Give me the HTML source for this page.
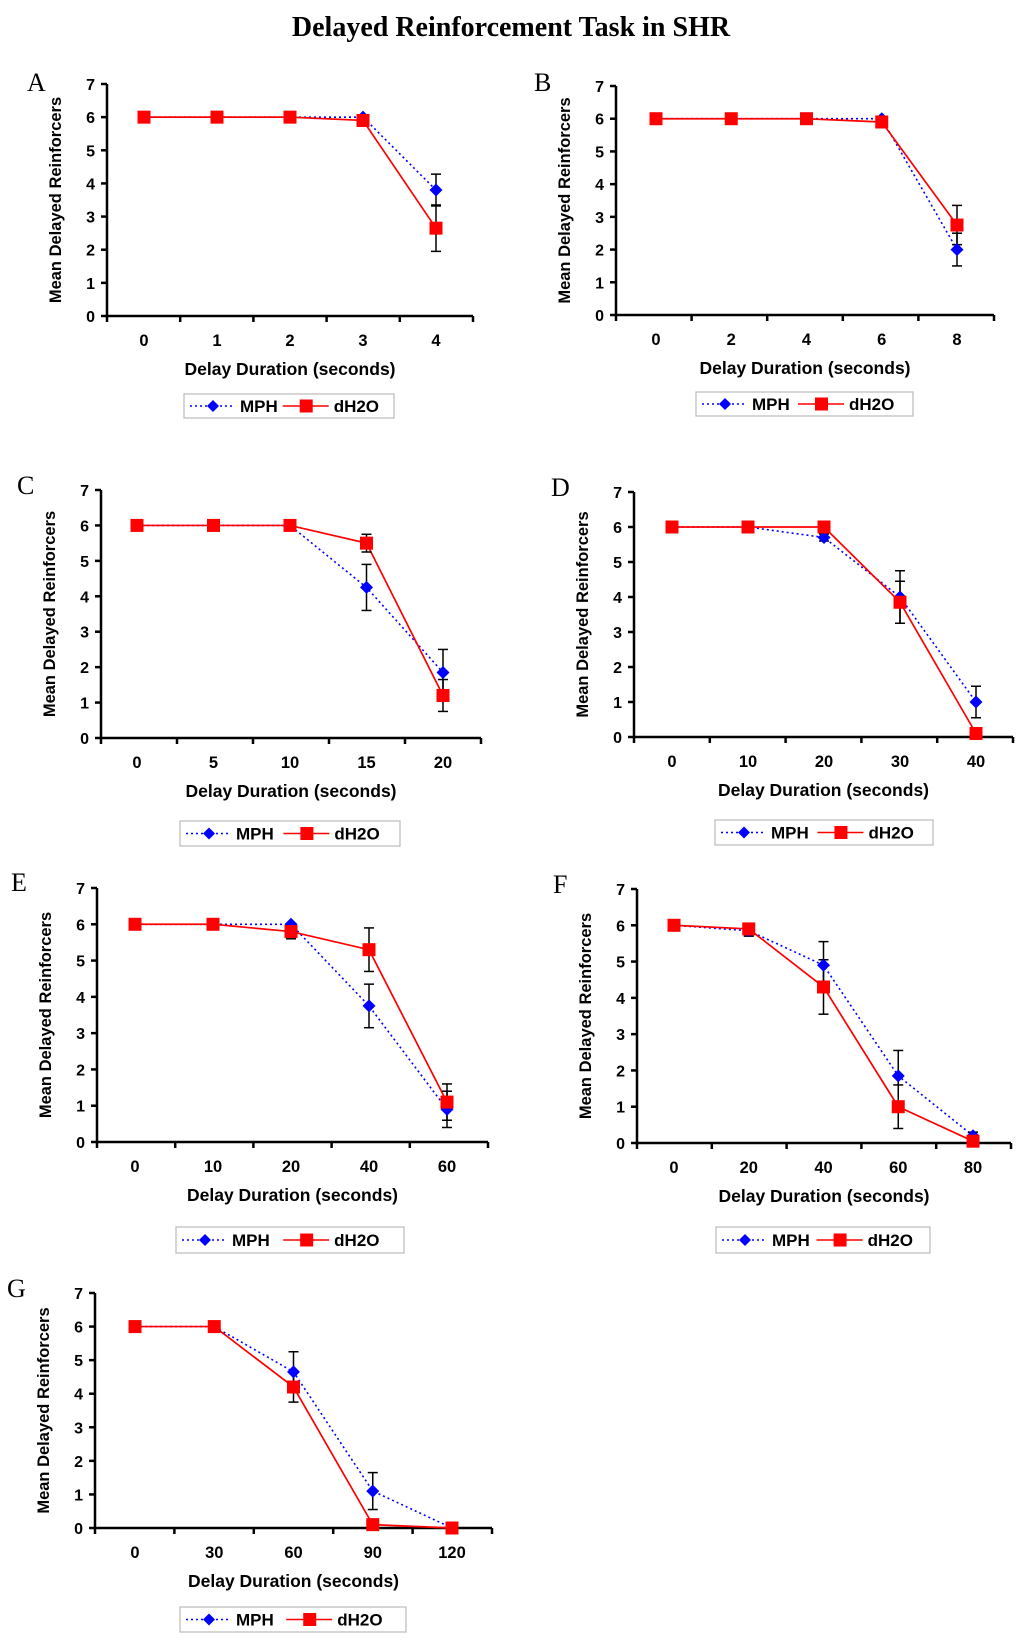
<!DOCTYPE html>
<html><head><meta charset="utf-8">
<style>
html,body{margin:0;padding:0;background:#fff;}
body{width:1024px;height:1646px;position:relative;overflow:hidden;}
svg{position:absolute;left:0;top:0;}
</style></head>
<body>
<svg id="fig" width="1024" height="1646" viewBox="0 0 1024 1646" xmlns="http://www.w3.org/2000/svg">
<text x="511" y="36" text-anchor="middle" font-family="Liberation Serif, serif" font-weight="bold" font-size="28">Delayed Reinforcement Task in SHR</text>
</svg>
<script>
const panelLabels = ["A","B","C","D","E","F","G"];
const catsA = ["0","1","2","3","4"];
const catsB = ["0","2","4","6","8"];
const catsC = ["0","5","10","15","20"];
const catsD = ["0","10","20","30","40"];
const catsE = ["0","10","20","40","60"];
const catsF = ["0","20","40","60","80"];
const catsG = ["0","30","60","90","120"];
const mphA = [6,6,6,6,3.8];      const mphErrA = [0,0,0,0,0.48];
const waterA = [6,6,6,5.9,2.65]; const waterErrA = [0,0,0,0,0.7];
const mphB = [6,6,6,6,2.0];      const mphErrB = [0,0,0,0,0.5];
const waterB = [6,6,6,5.9,2.75]; const waterErrB = [0,0,0,0,0.6];
const mphC = [6,6,6,4.25,1.85];  const mphErrC = [0,0,0,0.65,0.65];
const waterC = [6,6,6,5.5,1.2];  const waterErrC = [0,0,0,0.25,0.45];
const mphD = [6,6,5.7,4.0,1.0];  const mphErrD = [0,0,0.1,0.75,0.45];
const waterD = [6,6,6,3.85,0.1]; const waterErrD = [0,0,0,0.6,0];
const mphE = [6,6,6,3.75,0.9];   const mphErrE = [0,0,0,0.6,0.5];
const waterE = [6,6,5.8,5.3,1.1];const waterErrE = [0,0,0.2,0.6,0.5];
const mphF = [6,5.85,4.9,1.85,0.2]; const mphErrF = [0,0.15,0.65,0.7,0.1];
const waterF = [6,5.9,4.3,1.0,0.05];const waterErrF = [0,0,0.75,0.6,0];
const mphG = [6,6,4.65,1.1,0];   const mphErrG = [0,0,0.6,0.55,0];
const waterG = [6,6,4.2,0.1,0];  const waterErrG = [0,0,0.45,0,0];
const yTicks = [0,1,2,3,4,5,6,7];

const NS="http://www.w3.org/2000/svg";
const svg=document.getElementById('fig');
function mk(tag,attrs,parent){const e=document.createElementNS(NS,tag);for(const k in attrs)e.setAttribute(k,attrs[k]);(parent||svg).appendChild(e);return e;}

const layouts=[
 {ax:107,top:84,bot:316,right:473,c0:144,c4:436,lab:[27,91],leg:[184,394,210,24]},
 {ax:616,top:86,bot:315,right:994,c0:656,c4:957,lab:[534,91],leg:[696,392,217,24]},
 {ax:101,top:490,bot:738,right:481,c0:137,c4:443,lab:[17,494],leg:[180,821,220,25]},
 {ax:634,top:492,bot:737,right:1013,c0:672,c4:976,lab:[551,496],leg:[715,820,218,25]},
 {ax:97,top:888,bot:1142,right:488,c0:135,c4:447,lab:[11,891],leg:[176,1227,228,26]},
 {ax:637,top:889,bot:1143,right:1011,c0:674,c4:973,lab:[553,893],leg:[716,1227,214,26]},
 {ax:95,top:1293,bot:1528,right:492,c0:135,c4:452,lab:[7,1297],leg:[180,1607,226,25]}
];
const cats=[catsA,catsB,catsC,catsD,catsE,catsF,catsG];
const mph=[mphA,mphB,mphC,mphD,mphE,mphF,mphG];
const mphErr=[mphErrA,mphErrB,mphErrC,mphErrD,mphErrE,mphErrF,mphErrG];
const water=[waterA,waterB,waterC,waterD,waterE,waterF,waterG];
const waterErr=[waterErrA,waterErrB,waterErrC,waterErrD,waterErrE,waterErrF,waterErrG];
const F='Liberation Sans, Arial, sans-serif';

layouts.forEach((L,p)=>{
 const g=mk('g',{});
 
 
 const yS=v=>L.bot-(v/7)*(L.bot-L.top);
 const step=(L.c4-L.c0)/4;
 const xS=i=>L.c0+i*step;
 const t=mk('text',{x:L.lab[0],y:L.lab[1],'font-family':'Liberation Serif, serif','font-size':26},g);
 t.textContent=panelLabels[p];
 
 
 const ya=mk('line',{x1:L.ax,y1:L.top,x2:L.ax,y2:L.bot,stroke:'#000','stroke-width':2.5},g);
 
 
 const xa=mk('line',{x1:L.ax,y1:L.bot,x2:L.right,y2:L.bot,stroke:'#000','stroke-width':2.5},g);
 
 
 yTicks.forEach(v=>{
  mk('line',{x1:L.ax-6,y1:yS(v),x2:L.ax,y2:yS(v),stroke:'#000','stroke-width':2.5},g);
  const tt=mk('text',{x:L.ax-12,y:yS(v)+6,'text-anchor':'end','font-family':F,'font-weight':'bold','font-size':16},g);
  tt.textContent=v;
  
  
 });
 for(let i=0;i<=5;i++){
  const x=L.ax+i*(L.right-L.ax)/5;
  mk('line',{x1:x,y1:L.bot,x2:x,y2:L.bot+6,stroke:'#000','stroke-width':2.5},g);
 }
 cats[p].forEach((c,i)=>{
  const tt=mk('text',{x:xS(i),y:L.bot+30,'text-anchor':'middle','font-family':F,'font-weight':'bold','font-size':16.5},g);
  tt.textContent=c;
  
  
 });
 const xt=mk('text',{x:(L.ax+L.right)/2,y:L.bot+59,'text-anchor':'middle','font-family':F,'font-weight':'bold','font-size':17.5},g);
 xt.textContent='Delay Duration (seconds)';
 
 
 const cy=(L.top+L.bot)/2;
 const yx=L.ax-46;
 const yt=mk('text',{x:yx,y:cy,'text-anchor':'middle','font-family':F,'font-weight':'bold','font-size':16.5,transform:`rotate(-90 ${yx} ${cy})`},g);
 yt.textContent='Mean Delayed Reinforcers';
 
 
 const ptsM=mph[p].map((v,i)=>xS(i)+','+yS(v)).join(' ');
 const ptsW=water[p].map((v,i)=>xS(i)+','+yS(v)).join(' ');
 const lm=mk('polyline',{points:ptsM,fill:'none',stroke:'#0000ff','stroke-width':1.6,'stroke-dasharray':'2,3'},g);
 
 
 const lw=mk('polyline',{points:ptsW,fill:'none',stroke:'#ff0000','stroke-width':1.7},g);
 
 
 function errbar(x,v,e){
  if(!e)return;
  mk('line',{x1:x,y1:yS(v-e),x2:x,y2:yS(v+e),stroke:'#000','stroke-width':1.5},g);
  mk('line',{x1:x-5,y1:yS(v+e),x2:x+5,y2:yS(v+e),stroke:'#000','stroke-width':1.5},g);
  mk('line',{x1:x-5,y1:yS(Math.max(0,v-e)),x2:x+5,y2:yS(Math.max(0,v-e)),stroke:'#000','stroke-width':1.5},g);
 }
 mph[p].forEach((v,i)=>errbar(xS(i),v,mphErr[p][i]));
 water[p].forEach((v,i)=>errbar(xS(i),v,waterErr[p][i]));
 mph[p].forEach((v,i)=>{
  const x=xS(i),y=yS(v);
  const d=mk('polygon',{points:`${x},${y-6.5} ${x+6.5},${y} ${x},${y+6.5} ${x-6.5},${y}`,fill:'#0000ff'},g);
  
  
 });
 water[p].forEach((v,i)=>{
  const x=xS(i),y=yS(v);
  const s=mk('rect',{x:x-6.5,y:y-6.5,width:13,height:13,fill:'#ff0000'},g);
  
  
 });
 const [lx,ly,lwid,lh]=L.leg;
 const lg=mk('g',{},g);
 
 
 mk('rect',{x:lx,y:ly,width:lwid,height:lh,fill:'#fff',stroke:'#bbb','stroke-width':1.2},lg);
 const my=ly+lh/2;
 mk('line',{x1:lx+6,y1:my,x2:lx+48,y2:my,stroke:'#0000ff','stroke-width':1.5,'stroke-dasharray':'2,3'},lg);
 mk('polygon',{points:`${lx+29},${my-6} ${lx+35},${my} ${lx+29},${my+6} ${lx+23},${my}`,fill:'#0000ff'},lg);
 const t1=mk('text',{x:lx+56,y:my+6,'font-family':F,'font-weight':'bold','font-size':17},lg);
 t1.textContent='MPH';
 
 
 const x2=lx+lwid*0.47;
 mk('line',{x1:x2,y1:my,x2:x2+46,y2:my,stroke:'#ff0000','stroke-width':1.6},lg);
 mk('rect',{x:x2+17,y:my-6.5,width:13,height:13,fill:'#ff0000'},lg);
 const t2=mk('text',{x:x2+51,y:my+6,'font-family':F,'font-weight':'bold','font-size':17},lg);
 t2.textContent='dH2O';
 
 
});
</script>
</body></html>
